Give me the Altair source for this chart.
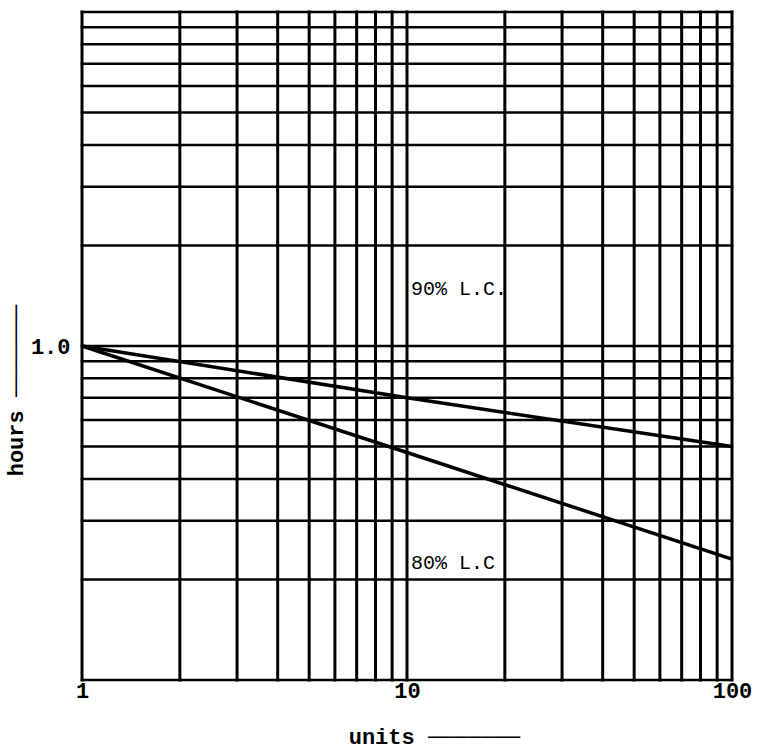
import altair as alt
import pandas as pd

# ---- data ----
units_grid = [1, 2, 3, 4, 5, 6, 7, 8, 9, 10, 20, 30, 40, 50, 60, 70, 80, 90, 100]
hours_grid = [0.1, 0.2, 0.3, 0.4, 0.5, 0.6, 0.7, 0.8, 0.9,
              1, 2, 3, 4, 5, 6, 7, 8, 9, 10]
units = [1, 10, 100]
hours_90 = [1.0, 0.70, 0.50]
hours_80 = [1.0, 0.48, 0.23]
x_label_values = [1, 10, 100]
y_label_values = [1.0]
annot_text = ["90% L.C.", "80% L.C"]
annot_units = [10, 10]
annot_hours = [1.42, 0.215]

FONT = "Liberation Mono"

vgrid = pd.DataFrame({"units": units_grid})
hgrid = pd.DataFrame({"hours": hours_grid})
curves = pd.DataFrame({
    "units": units + units,
    "hours": hours_90 + hours_80,
    "curve": ["90%"] * len(units) + ["80%"] * len(units),
})
annots = pd.DataFrame({"units": annot_units, "hours": annot_hours, "text": annot_text})

xscale = alt.Scale(type="log", domain=[1, 100], nice=False)
yscale = alt.Scale(type="log", domain=[0.1, 10], nice=False)

xaxis = alt.Axis(
    values=x_label_values, format="d", grid=False, ticks=False, domain=False,
    labelFont=FONT, labelFontSize=22, labelPadding=0, labelColor="black",
    labelFlush=False, labelFontWeight="bold",
    title="units ───────", titleFont=FONT, titleFontSize=22, titleFontWeight="bold",
    titleColor="black", titleX=352, titleY=63, titleBaseline="alphabetic",
    titleAlign="center",
)
yaxis = alt.Axis(
    values=y_label_values, format=".1f", grid=False, ticks=False, domain=False,
    labelFont=FONT, labelFontSize=22, labelPadding=12, labelColor="black",
    labelFlush=False, labelFontWeight="bold",
    title="hours ───────", titleFont=FONT, titleFontSize=22, titleFontWeight="bold",
    titleColor="black", titleX=-60, titleY=378, titleAngle=270,
    titleBaseline="alphabetic", titleAlign="center",
)

X = lambda: alt.X("units:Q", scale=xscale, axis=xaxis)
Y = lambda: alt.Y("hours:Q", scale=yscale, axis=yaxis)

vlines = alt.Chart(vgrid).mark_rule(color="black", strokeWidth=3, strokeCap="square").encode(x=X())
hlines = alt.Chart(hgrid).mark_rule(color="black", strokeWidth=2.5, strokeCap="square").encode(y=Y())

lines = alt.Chart(curves).mark_line(color="black", strokeWidth=3.5).encode(
    x=X(), y=Y(), detail="curve:N"
)

labels = alt.Chart(annots).mark_text(
    align="left", baseline="alphabetic", font=FONT, fontSize=20, color="black", dx=4
).encode(x=X(), y=Y(), text="text:N")

chart = alt.layer(vlines, hlines, lines, labels).properties(
    width=650, height=668,
    padding={"left": 82, "top": 12, "right": 27, "bottom": 72},
    autosize=alt.AutoSizeParams(type="none"),
    background="white",
).configure_view(stroke=None)

chart.save("out.html", embed_options={"renderer": "svg", "actions": False})
